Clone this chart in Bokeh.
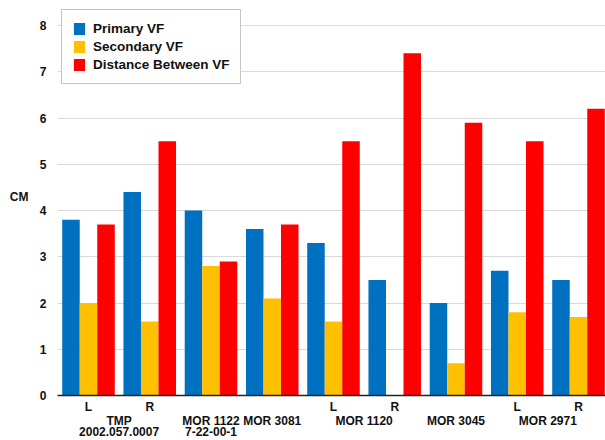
from bokeh.plotting import figure
from bokeh.models import (ColumnDataSource, Range1d, LinearAxis, FixedTicker,
                          Legend, LegendItem)
from bokeh.embed import file_html
from bokeh.resources import INLINE

# ---- data ----
groups = ["TMP L", "TMP R", "MOR 1122", "MOR 3081", "MOR 1120 L",
          "MOR 1120 R", "MOR 3045", "MOR 2971 L", "MOR 2971 R"]
primary_vf = [3.8, 4.4, 4.0, 3.6, 3.3, 2.5, 2.0, 2.7, 2.5]
secondary_vf = [2.0, 1.6, 2.8, 2.1, 1.6, 0.0, 0.7, 1.8, 1.7]
distance_vf = [3.7, 5.5, 2.9, 3.7, 5.5, 7.4, 5.9, 5.5, 6.2]
side_ticks = [0, 1, 4, 5, 7, 8]
side_labels = ["L", "R", "L", "R", "L", "R"]
name_ticks = [0.5, 2, 3, 4.5, 6, 7.5]
name_labels = ["TMP", "MOR 1122", "MOR 3081", "MOR 1120", "MOR 3045", "MOR 2971"]
name2_ticks = [0.5, 2]
name2_labels = ["2002.057.0007", "7-22-00-1"]
y_ticks = [0, 1, 2, 3, 4, 5, 6, 7, 8]
y_title = "CM"
series_names = ["Primary VF", "Secondary VF", "Distance Between VF"]
colors = ["#0070C0", "#FFC000", "#FF0000"]

FONT = "Liberation Sans"
TXT = "#111111"

idx = list(range(len(groups)))
bw = 0.286
src = ColumnDataSource(dict(
    xp=[i - bw for i in idx], xs=idx, xd=[i + bw for i in idx],
    p=primary_vf, s=secondary_vf, d=distance_vf))

p = figure(width=605, height=440, output_backend="svg", toolbar_location=None,
           x_range=Range1d(-0.506, 8.441), y_range=Range1d(0, 8.519),
           min_border_left=57, min_border_right=0, min_border_top=1,
           min_border_bottom=45, x_axis_location=None, y_axis_location=None)
p.outline_line_color = None
p.background_fill_color = "white"

r1 = p.vbar(x="xp", top="p", width=bw, source=src, fill_color=colors[0], line_color=None)
r2 = p.vbar(x="xs", top="s", width=bw, source=src, fill_color=colors[1], line_color=None)
r3 = p.vbar(x="xd", top="d", width=bw, source=src, fill_color=colors[2], line_color=None)


def style_axis(ax, standoff):
    ax.major_tick_line_color = None
    ax.minor_tick_line_color = None
    ax.major_tick_out = 0
    ax.major_tick_in = 0
    ax.minor_tick_out = 0
    ax.minor_tick_in = 0
    ax.axis_label_standoff = 0
    ax.major_label_standoff = standoff
    ax.major_label_text_font = FONT
    ax.major_label_text_font_style = "bold"
    ax.major_label_text_font_size = "12px"
    ax.major_label_text_color = TXT


# y axis (inner, numbers)
yax = LinearAxis(ticker=FixedTicker(ticks=y_ticks))
style_axis(yax, 11)
yax.axis_line_color = None
p.add_layout(yax, "left")

# y axis (outer, title "CM" horizontal)
yax2 = LinearAxis(ticker=FixedTicker(ticks=[4.30]),
                  major_label_overrides={4.30: y_title})
style_axis(yax2, 8)
yax2.axis_line_color = None
p.add_layout(yax2, "left")

p.ygrid.grid_line_color = "#d9d9d9"
p.ygrid.grid_line_width = 1
p.ygrid.ticker = FixedTicker(ticks=y_ticks[1:])
p.xgrid.visible = False

# x axes: L/R row, group names, second line of names
ax1 = LinearAxis(ticker=FixedTicker(ticks=side_ticks),
                 major_label_overrides={t: l for t, l in zip(side_ticks, side_labels)})
style_axis(ax1, 4)
ax1.axis_line_color = "#222222"
ax1.axis_line_width = 1.5
p.add_layout(ax1, "below")

ax2 = LinearAxis(ticker=FixedTicker(ticks=name_ticks),
                 major_label_overrides={t: l for t, l in zip(name_ticks, name_labels)})
style_axis(ax2, -3)
ax2.axis_line_color = None
p.add_layout(ax2, "below")

ax3 = LinearAxis(ticker=FixedTicker(ticks=name2_ticks),
                 major_label_overrides={t: l for t, l in zip(name2_ticks, name2_labels)})
style_axis(ax3, -4)
ax3.axis_line_color = None
p.add_layout(ax3, "below")

legend = Legend(items=[LegendItem(label=series_names[0], renderers=[r1]),
                       LegendItem(label=series_names[1], renderers=[r2]),
                       LegendItem(label=series_names[2], renderers=[r3])],
                location=(4, 311))
legend.label_text_font = FONT
legend.label_text_font_style = "bold"
legend.label_text_font_size = "13.5px"
legend.label_text_color = TXT
legend.glyph_width = 14
legend.glyph_height = 15
legend.label_height = 17
legend.label_standoff = 7
legend.spacing = 1
legend.padding = 10
legend.margin = 0
legend.border_line_color = "#8c8c8c"
legend.border_line_width = 1
legend.background_fill_color = "white"
legend.background_fill_alpha = 1
p.add_layout(legend)

open("out.html", "w").write(file_html(p, INLINE))
